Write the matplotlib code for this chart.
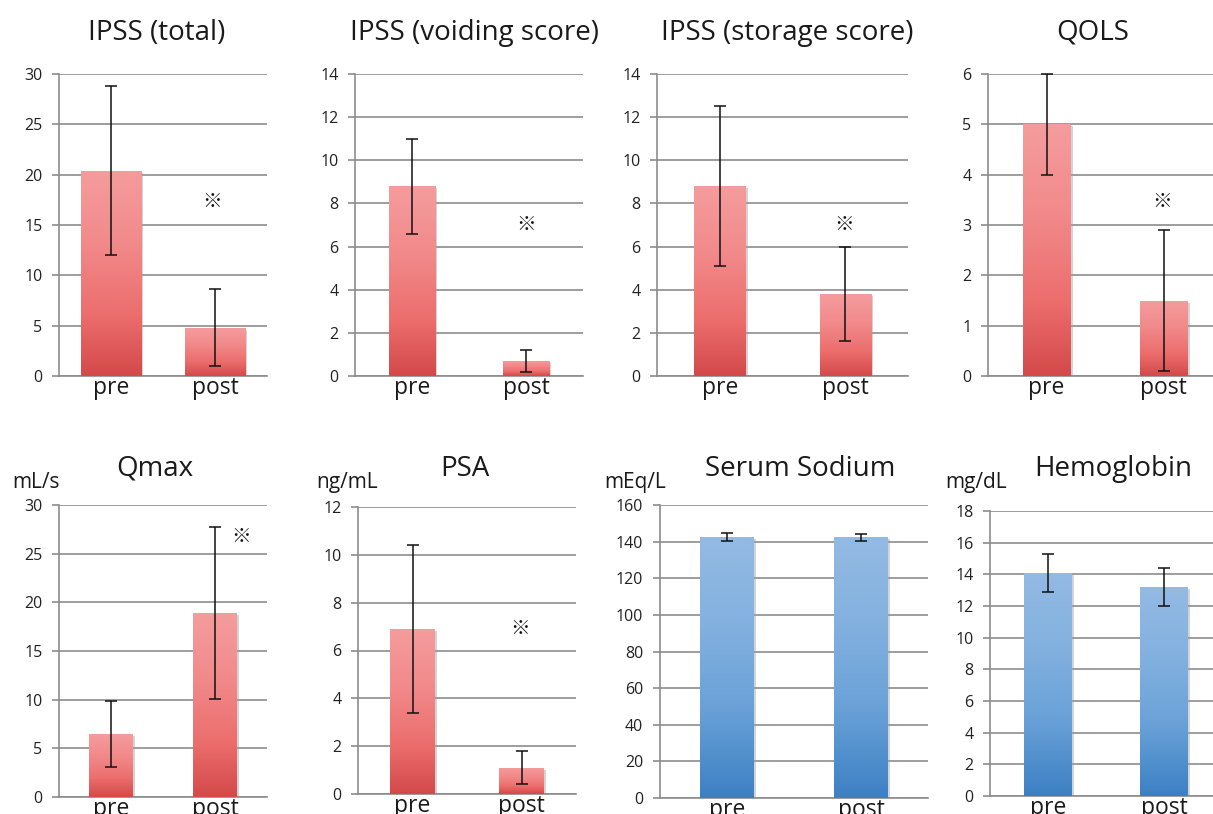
import numpy as np
import matplotlib
matplotlib.use("Agg")
import matplotlib.pyplot as plt
import matplotlib.patheffects as pe
from matplotlib.colors import LinearSegmentedColormap

plt.rcParams["font.family"] = ["Open Sans", "DejaVu Sans"]

# data (mean and SD, pre vs post)
titles = ["IPSS (total)", "IPSS (voiding score)", "IPSS (storage score)", "QOLS",
          "Qmax", "PSA", "Serum Sodium", "Hemoglobin"]
units = ["", "", "", "", "mL/s", "ng/mL", "mEq/L", "mg/dL"]
groups = ["pre", "post"]
pre_mean = [20.4, 8.8, 8.8, 5.0, 6.5, 6.9, 142.4, 14.1]
pre_sd = [8.4, 2.2, 3.7, 1.0, 3.4, 3.5, 2.2, 1.2]
post_mean = [4.8, 0.7, 3.8, 1.5, 18.9, 1.1, 142.4, 13.2]
post_sd = [3.8, 0.5, 2.2, 1.4, 8.8, 0.7, 1.9, 1.2]
y_max = [30, 14, 14, 6, 30, 12, 160, 18]
y_step = [5, 2, 2, 1, 5, 2, 20, 2]
significant = [True, True, True, True, True, True, False, False]

# layout (pixels on a 1213x814 canvas)
W, H = 1213, 814
boxes = [(59, 74, 267, 376), (355, 74, 583, 376), (657, 74, 908, 376), (988, 74, 1222, 376),
         (59, 505, 267, 797), (358, 507, 576, 794), (660, 505, 928, 798), (990, 511, 1222, 796)]
title_x = [157, 475, 787, 1093, 155, 465, 800, 1113]
title_base = [40, 40, 40, 40, 476, 476, 476, 476]
unit_x = [0, 0, 0, 0, 36, 347, 635, 976]
bar_w = [0.58, 0.41, 0.41, 0.41, 0.42, 0.41, 0.40, 0.41]
mark_xy = [(0.97, 17.3), (1.0, 7.0), (0.99, 7.0), (0.99, 3.46), (1.25, 26.8), (0.99, 6.94)]
bar_colors = ["red"] * 6 + ["blue"] * 2

cmaps = {
    "red": LinearSegmentedColormap.from_list("r", [(0, "#D4494A"), (0.3, "#EC6E6D"), (0.65, "#F28A8B"), (1, "#F59C9D")]),
    "blue": LinearSegmentedColormap.from_list("b", [(0, "#3C80C4"), (0.35, "#6AA2D8"), (0.7, "#85B2E0"), (1, "#93BAE3")]),
}
grad = np.linspace(0, 1, 256).reshape(-1, 1)

fig = plt.figure(figsize=(W / 100, H / 100), dpi=100)

for i in range(8):
    l, t, r, b = boxes[i]
    ax = fig.add_axes([l / W, 1 - b / H, (r - l) / W, (b - t) / H])
    means = [pre_mean[i], post_mean[i]]
    sds = [pre_sd[i], post_sd[i]]
    xs = np.arange(len(groups))

    bars = ax.bar(xs, means, width=bar_w[i], color="white", zorder=2,
                  path_effects=[pe.SimplePatchShadow(offset=(1.5, -1.5), shadow_rgbFace="#a0a0a0", alpha=0.45), pe.Normal()])
    for bar in bars:
        x0 = bar.get_x()
        im = ax.imshow(grad, cmap=cmaps[bar_colors[i]], origin="lower", aspect="auto",
                       extent=(x0, x0 + bar.get_width(), 0, bar.get_height()), zorder=3)
        im.set_clip_path(bar)

    eb = ax.errorbar(xs, means, yerr=sds, fmt="none", ecolor="#111111", elinewidth=1.1,
                     capsize=4, capthick=1.1, zorder=5)
    for art in eb.lines[1] + eb.lines[2]:
        art.set_clip_on(False)

    ax.set_xlim(-0.5, 1.5)
    ax.set_ylim(0, y_max[i])
    ax.set_yticks(np.arange(0, y_max[i] + 0.1, y_step[i]))
    ax.set_xticks(xs)
    ax.set_xticklabels(groups, fontsize=16.5, color="#1a1a1a")
    ax.tick_params(axis="x", length=0, pad=0)
    ax.tick_params(axis="y", length=5, width=1.2, color="#8c8c8c", labelsize=11.5, labelcolor="#222222", pad=7)
    ax.yaxis.grid(True, color="#8c8c8c", lw=1.2)
    ax.set_axisbelow(True)
    for s in ["top", "right"]:
        ax.spines[s].set_visible(False)
    ax.spines["left"].set_color("#8c8c8c")
    ax.spines["left"].set_linewidth(1.2)
    ax.spines["bottom"].set_color("#8c8c8c")
    ax.spines["bottom"].set_linewidth(1.2)

    if significant[i]:
        mx, my = mark_xy[i]
        ax.text(mx, my, "\u203b", fontsize=14, ha="center", va="center",
                family=["Noto Sans CJK JP", "DejaVu Sans"], color="#111111", zorder=6)

    fig.text(title_x[i] / W, 1 - title_base[i] / H, titles[i], fontsize=20, ha="center",
             va="baseline", color="#1a1a1a")
    if units[i]:
        fig.text(unit_x[i] / W, 1 - 488 / H, units[i], fontsize=15, ha="center",
                 va="baseline", color="#1a1a1a")

fig.savefig("out.png", dpi=100)
